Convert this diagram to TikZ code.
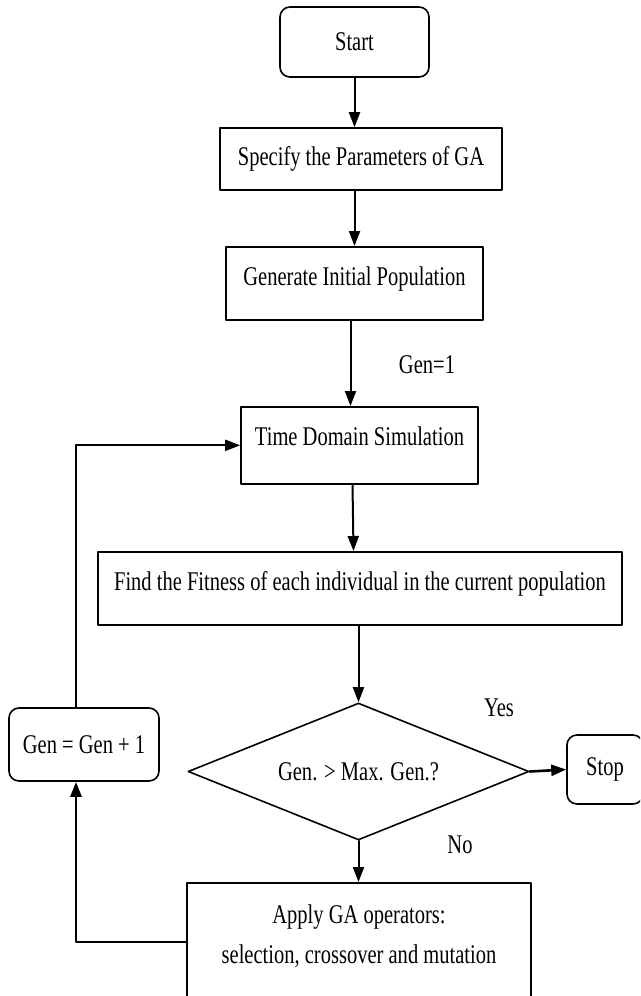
\documentclass[tikz,border=0pt]{standalone}
\usepackage{fontspec}
\setmainfont[FakeStretch=0.76]{Liberation Serif}
\usetikzlibrary{arrows.meta,shapes.geometric}

\begin{document}
\begin{tikzpicture}[line cap=round,line join=round,x=1pt,y=-1pt,
		font=\fontsize{27}{40}\selectfont,
		stepbox/.style={draw,line width=1.6pt,inner xsep=0pt,inner ysep=0pt},
		endbox/.style={stepbox,rounded corners=10pt},
		arr/.style={line width=2pt,-{Triangle[length=15pt,width=11pt]}}]
			\useasboundingbox (0,0) rectangle (640,996);
			\clip (0,0) rectangle (640,996);
			\node [endbox,minimum width=149pt,minimum height=70pt] (start) at (354.5,42) {Start};
			\node [stepbox,minimum width=282pt,minimum height=62pt] (spec) at (361,159) {Specify the Parameters of GA};
			\node [stepbox,minimum width=257pt,text height=39pt,text depth=34pt,anchor=north] (init) at (354.5,246) {Generate Initial Population};
			\node [stepbox,minimum width=237pt,text height=39pt,text depth=38pt,anchor=north] (time) at (359.5,406) {Time Domain Simulation};
			\node [stepbox,minimum width=524pt,text height=39pt,text depth=34pt,anchor=north] (fit) at (360,551) {Find the Fitness of each individual in the current population};
			\node [draw,diamond,line width=1.6pt,inner sep=0pt,aspect=2.5,minimum width=341pt,minimum height=137pt] (check) at (358.5,771.5) {Gen. > Max. Gen.?};
			\node [endbox,minimum width=76pt,minimum height=69pt] (stop) at (605,769.5) {Stop};
			\node [endbox,minimum width=150pt,minimum height=73pt] (inc) at (84,744.5) {Gen = Gen + 1};
			\node [stepbox,minimum width=344pt,text height=81pt,text depth=37pt,align=center,anchor=north] (apply) at (359,882) {Apply GA operators:\\selection, crossover and mutation};
			\node (first) at (427,365) {Gen=1};
			\node (yes) at (499,708) {Yes};
			\node (no) at (460,845) {No};
			\coordinate (loopx) at (76,942);
			\draw [arr] (start.south) -- (start.south |- spec.north);
			\draw [arr] (spec.south -| start) -- (init.north -| start);
			\draw [arr] ([xshift=-4pt]init.south) -- ([xshift=-4pt]init.south |- time.north);
			\draw [arr] ([xshift=-7pt]time.south) -- ([xshift=-6pt]time.south |- fit.north);
			\draw [arr] (fit.south -| check.north) -- (check.north);
			\draw [arr] (check.south) -- (check.south |- apply.north);
			\draw [arr,line width=2.6pt] (check.east) -- (stop.west);
			\draw [arr,line width=2.8pt] (apply.west |- loopx) -| (inc.south -| loopx);
			\draw [arr] (inc.north -| loopx) |- (time.west);
		\end{tikzpicture}
\end{document}
